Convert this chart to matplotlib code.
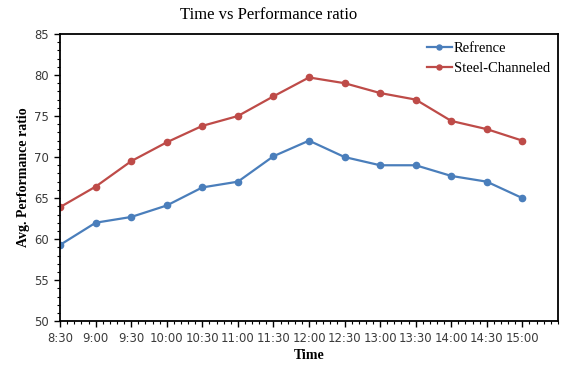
import matplotlib
matplotlib.use("Agg")
import matplotlib.pyplot as plt
from matplotlib.ticker import MultipleLocator, AutoMinorLocator

# time slots and average performance ratio values
times = ["8:30", "9:00", "9:30", "10:00", "10:30", "11:00", "11:30",
         "12:00", "12:30", "13:00", "13:30", "14:00", "14:30", "15:00"]
refrence = [59.3, 62.0, 62.7, 64.1, 66.3, 67.0, 70.1,
            72.0, 70.0, 69.0, 69.0, 67.7, 67.0, 65.0]
steel_channeled = [63.9, 66.4, 69.5, 71.8, 73.8, 75.0, 77.4,
                   79.7, 79.0, 77.8, 77.0, 74.4, 73.4, 72.0]

x = list(range(len(times)))

fig = plt.figure(figsize=(5.67, 3.65), dpi=100)
ax = fig.add_axes([0.106, 0.12, 0.878, 0.787])

ax.plot(x, refrence, color="#4a7ebb", lw=1.6, marker="o", ms=4.5, label="Refrence")
ax.plot(x, steel_channeled, color="#be4b48", lw=1.6, marker="o", ms=4.5, label="Steel-Channeled")

ax.set_xlim(0, 14)
ax.set_ylim(50, 85)
ax.set_xticks(x)
ax.set_xticklabels(times)
ax.yaxis.set_major_locator(MultipleLocator(5))
ax.yaxis.set_minor_locator(MultipleLocator(1))
ax.xaxis.set_minor_locator(AutoMinorLocator(5))

for lab in ax.get_xticklabels() + ax.get_yticklabels():
    lab.set_fontfamily("DejaVu Sans")
    lab.set_fontsize(8.4)
    lab.set_color("#3a3a3a")

ax.tick_params(which="major", direction="out", length=4, width=1, pad=4)
ax.tick_params(which="minor", direction="out", length=2.5, width=0.8)
for s in ax.spines.values():
    s.set_linewidth(1.3)
    s.set_color("black")

fig.text(269 / 567, 1 - 15 / 365, "Time vs Performance ratio",
         fontfamily="Liberation Serif", fontsize=12, ha="center", va="center")
ax.set_xlabel("Time", fontfamily="Liberation Serif", fontweight="bold",
              fontsize=10, labelpad=3)
ax.set_ylabel("Avg. Performance ratio", fontfamily="Liberation Serif",
              fontweight="bold", fontsize=10, labelpad=3)

ax.legend(loc="upper right", frameon=False, handlelength=1.7,
          handletextpad=0.15, borderaxespad=0.15, labelspacing=0.45,
          markerscale=0.8,
          prop={"family": "Liberation Serif", "size": 10.5})

fig.savefig("out.png", dpi=100)
